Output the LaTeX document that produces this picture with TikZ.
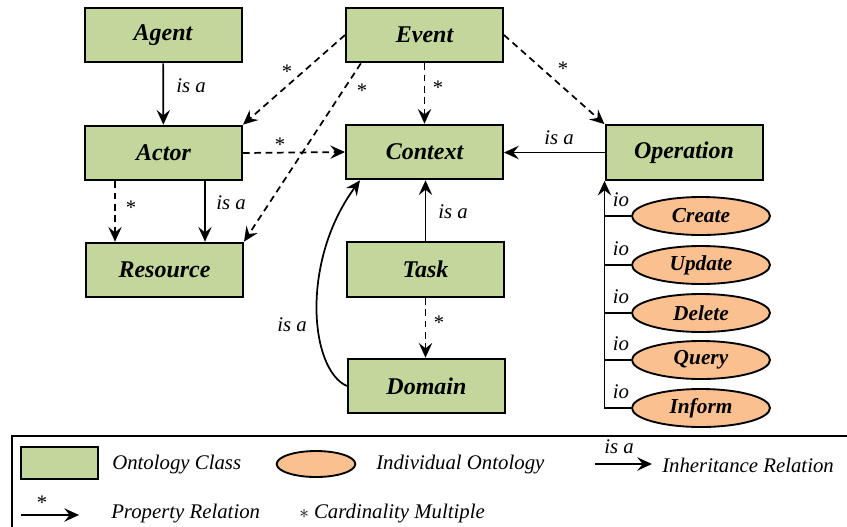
\documentclass[tikz,border=0pt]{standalone}
\usepackage{fontspec}
\setmainfont{Liberation Serif}
\usetikzlibrary{arrows.meta,calc,shapes.geometric}
\definecolor{classgreen}{HTML}{C3D69B}
\definecolor{indivorange}{HTML}{FAC090}

\begin{document}
\begin{tikzpicture}[x=0.75pt,y=-0.75pt,
  cls/.style={draw=black, line width=1.5pt, fill=classgreen,
    minimum width=117.75pt, minimum height=41pt, inner sep=0pt,
    font=\fontsize{18}{20}\selectfont\bfseries\itshape},
  ind/.style={ellipse, draw=black, line width=1.4pt, fill=indivorange,
    minimum width=103.5pt, minimum height=28.5pt, inner sep=0pt,
    font=\fontsize{16}{18}\selectfont\bfseries\itshape},
  lbl/.style={font=\fontsize{15.6}{18}\selectfont\itshape, inner sep=0pt},
  star/.style={font=\fontsize{15.5}{18}\selectfont, inner sep=0pt},
  tip/.style={-{Stealth[length=11pt,width=10pt,inset=4pt]}},
  isa/.style={tip, line width=1.3pt},
  prop/.style={tip, line width=1.3pt, dash pattern=on 5pt off 3.5pt},
]
\clip (0,0) rectangle (847,526);
\fill[white] (0,0) rectangle (847,526);

% ontology classes
\node[cls] (Agent)     at (163,35)    {Agent};
\node[cls] (Event)     at (424.5,35)  {Event};
\node[cls] (Actor)     at (163.5,153) {Actor};
\node[cls] (Context)   at (424.5,152) {Context};
\node[cls] (Resource)  at (164.5,270) {Resource};
\node[cls] (Task)      at (425.5,269.5) {Task};
\node[cls] (Domain)    at (426.5,386) {Domain};
\node[cls] (Operation) at (684,152.5) {Operation};

% individual operations
\node[ind] (Create) at (701,216) {Create};
\node[ind] (Update) at (701,265) {Update};
\node[ind] (Delete) at (701,313) {Delete};
\node[ind] (Query)  at (701,360) {Query};
\node[ind] (Inform) at (701,408) {Inform};

% inheritance relations
\draw[isa] (Agent) -- (Actor);
\node[lbl] (isa1) at (191,86) {is a};
\coordinate (ar2) at ($(Actor.south west)+(121,0)$);
\draw[isa] (ar2) -- (ar2 |- Resource.north);
\node[lbl] (isa2) at (231,203) {is a};
\draw[isa] (Task.north) -- (Task.north |- Context.south);
\node[lbl] (isa3) at (453,212) {is a};
\draw[isa] (Operation.west) -- (Operation.west -| Context.east);
\node[lbl] (isa4) at (559,138) {is a};
\draw[isa] (Domain.west) .. controls (310,370) and (300,262) .. ($(Context.south west)+(15,0)$);
\node[lbl] (isa5) at (292,325) {is a};

% property relations
\draw[prop] (Event.west) -- (Actor.north east);
\node[star] (s1) at (287,72) {*};
\draw[prop] (Event.204) -- (Resource.north east);
\node[star] (s2) at (362,91) {*};
\draw[prop] (Event.south) -- (Context.north);
\node[star] (s3) at (438,88) {*};
\draw[prop] (Event.east) -- (Operation.north west);
\node[star] (s4) at (563,69) {*};
\draw[prop] (Actor.east) -- (Context.west);
\node[star] (s5) at (280,145) {*};
\coordinate (ar1) at ($(Actor.south west)+(31,0)$);
\draw[prop] (ar1) -- (ar1 |- Resource.north);
\node[star] (s6) at (131,208) {*};
\draw[prop] (Task.south) -- (Task.south |- Domain.north);
\node[star] (s7) at (439,323) {*};

% instance-of links
\draw[isa] (Inform.west) -| (Operation.south west);
\foreach \n in {Create,Update,Delete,Query}
  \draw[line width=1.3pt] (\n.west) -- (\n.west -| Operation.south west);
\foreach \n/\y in {io1/200,io2/249,io3/297,io4/344,io5/392}
  \node[lbl] (\n) at (621,\y) {io};

% legend
\draw[line width=1.3pt] (12,436) rectangle (870,560);
\node[cls, minimum width=57.75pt, minimum height=24pt] (lgClass) at (59.5,463) {};
\node[lbl, anchor=west] (lgClassT) at (112,465) {Ontology Class};
\node[ind, minimum width=59pt, minimum height=19.5pt] (lgInd) at (316,464) {};
\node[lbl, anchor=west] (lgIndT) at (376,465) {Individual Ontology};
\coordinate (lgA1) at (595,464);
\coordinate (lgA2) at (652,464);
\draw[isa] (lgA1) -- (lgA2);
\node[lbl] (lgIsa) at (619,447) {is a};
\node[lbl, anchor=west] (lgInhT) at (662,465) {Inheritance Relation};
\coordinate (lgB1) at (21,515);
\coordinate (lgB2) at (79,515);
\draw[isa] (lgB1) -- (lgB2);
\node[star] (lgStar) at (42,503) {*};
\node[lbl, anchor=west] (lgPropT) at (111,514) {Property Relation};
\node[lbl, anchor=west] (lgCardT) at (299,514) {$\ast$ Cardinality Multiple};
\end{tikzpicture}
\end{document}
